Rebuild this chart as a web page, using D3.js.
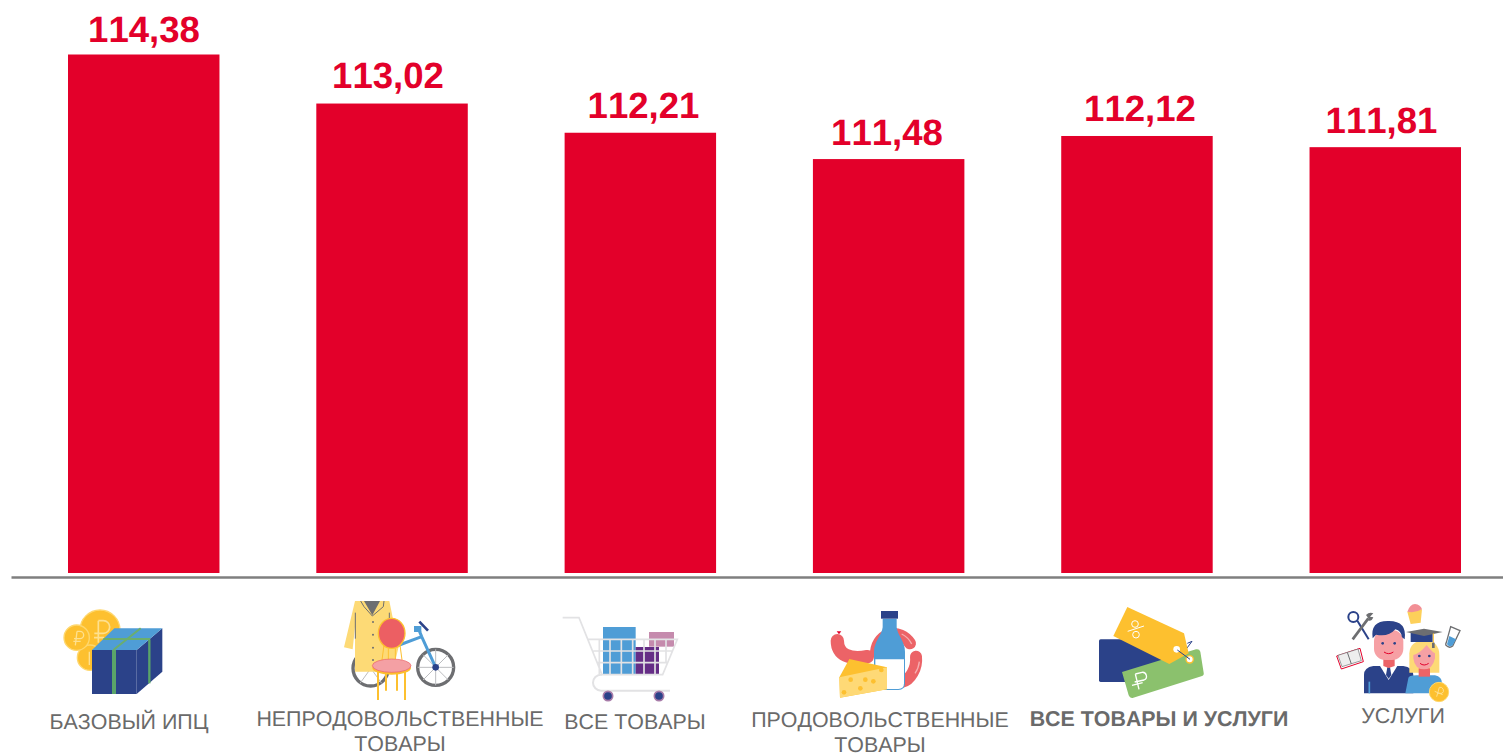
<!DOCTYPE html>
<html lang="ru">
<head>
<meta charset="utf-8">
<title>ИПЦ</title>
<script src="https://cdn.jsdelivr.net/npm/d3@7"></script>
<style>
  html, body { margin: 0; background: #fff; overflow: hidden; }
  svg { display: block; font-family: "Liberation Sans", Arial, sans-serif; font-kerning: none; text-rendering: geometricPrecision; }
</style>
</head>
<body>
<svg id="chart" width="1503" height="754"></svg>
<script>
// data
const categories = ['БАЗОВЫЙ ИПЦ', 'НЕПРОДОВОЛЬСТВЕННЫЕ ТОВАРЫ', 'ВСЕ ТОВАРЫ', 'ПРОДОВОЛЬСТВЕННЫЕ ТОВАРЫ', 'ВСЕ ТОВАРЫ И УСЛУГИ', 'УСЛУГИ'];
const values = [114.38, 113.02, 112.21, 111.48, 112.12, 111.81];
const labelLines = [['БАЗОВЫЙ ИПЦ'], ['НЕПРОДОВОЛЬСТВЕННЫЕ', 'ТОВАРЫ'], ['ВСЕ ТОВАРЫ'], ['ПРОДОВОЛЬСТВЕННЫЕ', 'ТОВАРЫ'], ['ВСЕ ТОВАРЫ И УСЛУГИ'], ['УСЛУГИ']];
const boldCategory = 'ВСЕ ТОВАРЫ И УСЛУГИ';

const RED = '#e3002a';
const GREY = '#6a6a6a';

// hand placed text boxes in the original, so nothing lines up exactly with the bars
const valuePos = [[144, 42], [388, 87.5], [643.5, 117.5], [887, 144.7], [1140, 121.3], [1381.5, 132.7]];
const labelPos = [[129, 729], [400, 725.5], [635, 729], [880, 726.7], [1159, 726], [1403, 723.3]];
const lineGap = 25.4;

const svg = d3.select('#chart');

const x = d3.scaleBand().domain(categories).range([68, 1461]).paddingInner(0.39).paddingOuter(0);
const y = d3.scaleLinear().domain([100, 114.38]).range([573, 54.5]);

svg.selectAll('.bar')
  .data(categories)
  .enter().append('rect')
    .attr('class', 'bar')
    .attr('x', d => x(d))
    .attr('width', x.bandwidth())
    .attr('y', (d, i) => y(values[i]))
    .attr('height', (d, i) => y(100) - y(values[i]))
    .attr('fill', RED);

svg.selectAll('.bar-label')
  .data(categories)
  .enter().append('text')
    .attr('class', 'bar-label')
    .attr('x', (d, i) => valuePos[i][0])
    .attr('y', (d, i) => valuePos[i][1])
    .attr('text-anchor', 'middle')
    .attr('fill', RED)
    .attr('font-size', 36.6)
    .attr('font-weight', 700)
    .text((d, i) => values[i].toFixed(2).replace('.', ','));

// axis line
const axis = svg.append('g').attr('transform', 'translate(0,577)')
  .call(d3.axisBottom(d3.scaleLinear().domain([0, 1]).range([11, 1503])).tickValues([]).tickSize(0));
axis.select('.domain').attr('stroke', '#7f7f7f').attr('stroke-width', 2.5);

// category labels
categories.forEach((c, i) => {
  const t = svg.append('text')
    .attr('class', 'cat-label')
    .attr('text-anchor', 'middle')
    .attr('fill', GREY)
    .attr('font-size', 21.4)
    .attr('font-weight', c === boldCategory ? 700 : 400);
  labelLines[i].forEach((line, j) => {
    t.append('tspan')
      .attr('x', labelPos[i][0])
      .attr('y', labelPos[i][1] + j * lineGap)
      .text(line);
  });
});

// ── icons: markup is in 3x pixels relative to the origin of each group ──
const icons = [
  { at: [30, 590], svg: `
    <circle cx="210" cy="120" r="60" fill="#fdc02f" stroke="#fed76e" stroke-width="4"/>
    <circle cx="180" cy="203" r="38" fill="#fdc02f" stroke="#fed76e" stroke-width="4"/>
    <circle cx="140" cy="143" r="38" fill="#fdc02f" stroke="#fed76e" stroke-width="4"/>
    <path d="M205 92H220a19 19 0 0 1 0 38H193M205 92V158M192 143H222" fill="none" stroke="#fee08f" stroke-width="5"/>
    <path d="M141 124H150a11 11 0 0 1 0 22H132M141 124L136 166M130 154H152" fill="none" stroke="#fee08f" stroke-width="4"/>
    <path d="M178 185V225" stroke="#fee08f" stroke-width="4"/>
    <rect x="186" y="180" width="134" height="132" fill="#2b4289"/>
    <path d="M320 180L397 115V245L320 312Z" fill="#2b4289"/>
    <path d="M186 180L253 115H397L320 180Z" fill="#4f9dd6"/>
    <path d="M252 180V312" stroke="#5aa469" stroke-width="12"/>
    <path d="M358 148V280" stroke="#5aa469" stroke-width="7"/>
    <path d="M220 147H360M250 180L332 115" stroke="#6bae6e" stroke-width="6" fill="none"/>` },
  { at: [250, 590], svg: `
    <circle cx="362" cy="235" r="53" fill="#fff" stroke="#6d6e71" stroke-width="10"/>
    <circle cx="557" cy="232" r="54" fill="#fff" stroke="#6d6e71" stroke-width="10"/>
    <path d="M557 178V286M503 232H611M519 194L595 270M595 194L519 270" stroke="#bcbdc0" stroke-width="3"/>
    <path d="M330 190L395 280M395 190L330 280" stroke="#bcbdc0" stroke-width="3"/>
    <path d="M440 168L515 140L557 232M515 140L505 115" fill="none" stroke="#4f9dd6" stroke-width="9"/>
    <path d="M492 108h22v18h-22z" fill="#4f9dd6"/>
    <path d="M508 95L534 122" stroke="#2b4289" stroke-width="8"/>
    <circle cx="557" cy="232" r="10" fill="#2b4289"/>
    <path d="M315 33H418L446 170L428 245H315V110L308 178L282 172Z" fill="#fdda76"/>
    <path d="M342 33H390L367 76Z" fill="#6d6e71"/>
    <path d="M332 33L342 50L367 78L400 50L402 33M316 68V146M418 68V146" fill="none" stroke="#6d6e71" stroke-width="3"/>
    <circle cx="369" cy="96" r="3" fill="#6d6e71"/><circle cx="369" cy="134" r="3" fill="#6d6e71"/><circle cx="369" cy="173" r="3" fill="#6d6e71"/><circle cx="369" cy="210" r="3" fill="#6d6e71"/>
    <path d="M384 240V330M408 240V302M441 240V302M465 240V330" stroke="#fdc02f" stroke-width="6"/>
    <path d="M402 165L396 210M450 165L456 210M415 175V208M436 175V208" stroke="#fdc02f" stroke-width="3" fill="none"/>
    <ellipse cx="425" cy="130" rx="40" ry="45" fill="#ec5f63" stroke="#fdc02f" stroke-width="4"/>
    <ellipse cx="425" cy="234" rx="58" ry="20" fill="#fdc02f"/>
    <ellipse cx="425" cy="227" rx="58" ry="20" fill="#f4a0a4" stroke="#ec5f63" stroke-width="2"/>` },
  { at: [540, 600], svg: `
    <rect x="189" y="81" width="98" height="142" fill="#4f9dd6"/>
    <rect x="287" y="141" width="70" height="82" fill="#652d86"/>
    <rect x="327" y="96" width="75" height="44" fill="#c58bad"/>
    <path d="M68 53H117L186 224H368L412 118H145M160 153H398M170 188H384M178 118V224M210 118V224M244 118V224M278 118V224M312 118V224M345 118V224M378 118V190" fill="none" stroke="#e2e2e4" stroke-width="5"/>
    <path d="M186 224H183A24 24 0 0 0 183 272H390" fill="none" stroke="#e2e2e4" stroke-width="6"/>
    <circle cx="204" cy="288" r="14" fill="#2b4289" stroke="#a77ba8" stroke-width="5"/>
    <circle cx="357" cy="288" r="14" fill="#2b4289" stroke="#a77ba8" stroke-width="5"/>` },
  { at: [810, 600], svg: `
    <path d="M82 122C82 165 120 180 172 170" fill="none" stroke="#ec6367" stroke-width="40" stroke-linecap="round"/>
    <path d="M80 94h14l-7 9z" fill="#e3002a"/>
    <path d="M198 155C205 95 270 85 300 130" fill="none" stroke="#ec6367" stroke-width="36" stroke-linecap="round"/>
    <path d="M318 170C322 205 300 240 278 245" fill="none" stroke="#ec6367" stroke-width="36" stroke-linecap="round"/>
    <path d="M275 102Q295 112 305 132M328 185Q326 205 315 220" fill="none" stroke="#f6aeb0" stroke-width="4"/>
    <path d="M218 56H260V82C262 105 285 125 285 155V250Q285 270 265 270H210Q192 270 192 250V155C192 125 216 105 218 82Z" fill="#4f9dd6"/>
    <path d="M196 178H282V250Q282 267 265 267H210Q196 267 196 250Z" fill="#fff"/>
    <rect x="213" y="33" width="51" height="23" fill="#2b4289"/>
    <path d="M88 232L118 177L231 202V268L90 293Z" fill="#fdc02f"/>
    <path d="M88 232L231 202V268L90 293Z" fill="#fed976"/>
    <g fill="#fdc02f"><circle cx="122" cy="239" r="7"/><circle cx="166" cy="239" r="7"/><circle cx="190" cy="244" r="7"/><circle cx="151" cy="265" r="7"/><circle cx="102" cy="277" r="7"/><circle cx="214" cy="210" r="7"/></g>` },
  { at: [1080, 600], svg: `
    <rect x="57" y="118" width="200" height="128" rx="5" fill="#2b4289"/>
    <path d="M318 148L336 124L322 130" fill="none" stroke="#2b4289" stroke-width="3"/>
    <path d="M126 216L348 148Q358 146 361 155L371 218Q373 226 364 229L160 293Q150 296 146 286Z" fill="#8bc16d"/>
    <circle cx="329" cy="178" r="11" fill="#fff" stroke="#fdc02f" stroke-width="4"/>
    <path d="M142 21L312 100L326 160L268 192L100 108Z" fill="#fdc02f"/>
    <circle cx="290" cy="148" r="10" fill="#fff"/>
    <path d="M292 150L330 178" stroke="#2b4289" stroke-width="3"/>
    <g fill="none" stroke="#fff" stroke-width="3"><circle cx="165" cy="72" r="10"/><circle cx="168" cy="104" r="10"/><path d="M143 94L192 78"/></g>
    <path d="M166 222L186 217a12 12 0 0 1 6 23L164 246M166 222L177 268M156 256L188 248" fill="none" stroke="#fff" stroke-width="4"/>` },
  { at: [1320, 600], svg: `
    <circle cx="100" cy="51" r="15" fill="none" stroke="#2b4289" stroke-width="6"/>
    <path d="M112 62L146 118" stroke="#2b4289" stroke-width="6"/>
    <path d="M98 118L145 55" stroke="#6d6e71" stroke-width="8"/>
    <path d="M145 55L138 45Q148 35 160 40L150 50L160 52Q155 65 145 62" fill="#6d6e71"/>
    <path d="M50 168L120 145L130 185L64 207Z" fill="#fff" stroke="#e3002a" stroke-width="3"/>
    <path d="M54 166L114 147L124 182L66 200Z" fill="#eeeeee" stroke="#6d6e71" stroke-width="2"/>
    <path d="M82 157L94 192" stroke="#6d6e71" stroke-width="3"/>
    <path d="M262 35L306 28L302 68L272 72Z" fill="#fdd05a"/>
    <path d="M262 35Q270 12 285 12Q302 14 306 28Q285 40 262 35Z" fill="#f28f95"/>
    <path d="M392 80L420 92L398 138Q388 146 378 136Q376 132 380 124Z" fill="#fff" stroke="#6d6e71" stroke-width="4"/>
    <path d="M388 108L408 118L398 136Q388 144 381 133Z" fill="#4f9dd6"/>
    <path d="M132 280V225Q132 202 160 198H250Q278 202 280 225V280Z" fill="#2b4289"/>
    <path d="M180 198H232L206 240Z" fill="#fff"/>
    <path d="M202 202H210L214 225L206 236L198 225Z" fill="#2b4289"/>
    <path d="M190 175H224V198L206 204L190 198Z" fill="#ec6367"/>
    <path d="M148 245V280" stroke="#4f9dd6" stroke-width="5"/>
    <rect x="162" y="90" width="88" height="90" rx="34" fill="#f6a0a4"/>
    <path d="M158 115Q150 62 205 63Q262 62 254 118L246 112Q244 92 226 88Q205 112 168 104Z" fill="#2b4289"/>
    <circle cx="188" cy="130" r="4" fill="#2b4289"/><circle cx="224" cy="130" r="4" fill="#2b4289"/>
    <path d="M192 156Q206 166 220 156" fill="none" stroke="#e3002a" stroke-width="3"/>
    <path d="M265 235Q265 226 290 226H345Q366 230 366 250V280H256Z" fill="#4f9dd6"/>
    <path d="M268 218V160Q270 122 312 122Q358 122 358 165V218Z" fill="#fdda76"/>
    <path d="M296 205H330V230H296Z" fill="#ec6367"/>
    <path d="M280 165Q300 160 320 135Q335 155 345 160V175Q338 208 312 208Q284 208 280 175Z" fill="#f6a0a4"/>
    <circle cx="298" cy="168" r="4" fill="#2b4289"/><circle cx="328" cy="168" r="4" fill="#2b4289"/>
    <path d="M300 190Q312 200 326 190" fill="none" stroke="#e3002a" stroke-width="3"/>
    <rect x="272" y="96" width="66" height="30" fill="#2b4289"/>
    <path d="M258 96L312 86L368 96L312 108Z" fill="#6d6e71"/>
    <path d="M340 100V142" stroke="#fdc02f" stroke-width="3"/>
    <path d="M336 128h8v16h-8z" fill="#6d6e71"/>
    <circle cx="357" cy="276" r="29" fill="#fdc02f" stroke="#fed76e" stroke-width="3"/>
    <path d="M358 262a10 10 0 0 1 8 18h-14M358 262L350 290M344 274L368 284" fill="none" stroke="#fee08f" stroke-width="3"/>` }
];

svg.selectAll('.icon')
  .data(icons)
  .enter().append('g')
    .attr('class', 'icon')
    .attr('transform', d => `translate(${d.at[0]},${d.at[1]}) scale(${1 / 3})`)
    .html(d => d.svg);
</script>
</body>
</html>
